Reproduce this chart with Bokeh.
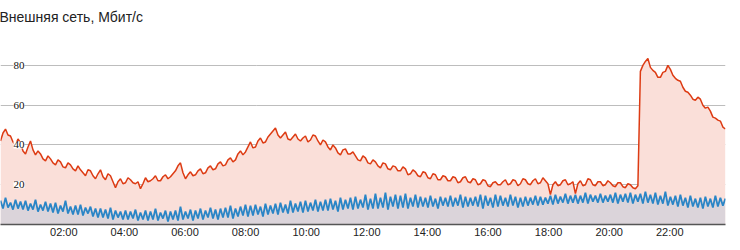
import numpy as np
from bokeh.plotting import figure
from bokeh.models import ColumnDataSource, FixedTicker, LabelSet, Range1d
from bokeh.embed import file_html
from bokeh.resources import INLINE

TITLE = "Внешняя сеть, Мбит/с"

# sampling of the series (hours since midnight)
START_H = -0.089
STEP_H = 0.0825

# external network traffic, Mbit/s
red_in = [
    42, 46, 48, 45, 44.5, 41.5, 40, 43, 41, 37, 35.5, 39, 42, 37.5, 35, 37, 35.5, 33, 32, 34.5,
    33, 31, 30, 32.5, 31.5, 29, 28.5, 31, 30, 28, 27, 29.5, 27.5, 26, 24.5, 27.5, 27, 24.5, 23, 25.5,
    27.5, 24, 22.5, 25.5, 24.5, 21.5, 18.5, 21.5, 23, 20.5, 21, 23.5, 22.5, 21, 20.5, 21.5, 18, 20.5, 23.5, 21.5,
    22, 23, 24.5, 22, 22, 24, 25, 23, 24, 25.5, 27, 29.5, 31, 26, 23, 25, 26.5, 24.5, 25, 27,
    28, 25.5, 26, 28.5, 29.5, 27.5, 28, 30.5, 31.5, 29.5, 30, 32.5, 33.5, 31.5, 32.5, 35.5, 37, 35, 36.5, 39,
    41.5, 38.5, 39, 42, 43.5, 41, 41.5, 44, 45.5, 47, 48.5, 45, 43.5, 45, 46.5, 43, 42.5, 44, 45.5, 43,
    42, 43.5, 44.5, 41.5, 42.5, 45, 44.5, 42, 40, 42.5, 41.5, 39, 37.5, 40, 38.5, 36, 35, 37.5, 38, 35.5,
    35.5, 36.5, 34.5, 32.5, 32, 34.5, 33.5, 31, 30.5, 32.5, 31.5, 29.5, 28.5, 31, 30.5, 28, 27.5, 29.5, 29, 27,
    27, 29, 28, 25, 25.5, 27.5, 26.5, 24.5, 24, 26.5, 26, 23.5, 23, 25.5, 25, 22.5, 22.5, 24.5, 24, 22,
    22, 24, 23.5, 21, 21.5, 23.5, 24, 21.5, 21, 23, 22.5, 20, 20.5, 22.5, 22, 19.5, 19, 21, 21.5, 20,
    20, 21.5, 22.5, 20, 20.5, 22.5, 22, 19.5, 20.5, 23, 22.5, 20.5, 20, 22, 23, 20.5, 21, 23.5, 22, 20.5,
    15, 20, 21.5, 19.5, 20, 22, 22.5, 20, 20.5, 21.5, 15.5, 20.5, 22, 19.5, 20, 23, 22.5, 20, 19.5, 21.5,
    21.5, 19.5, 20, 22, 21, 19.5, 19, 21, 21, 19, 18.5, 20.5, 20, 18.5, 18, 19.5, 77, 80, 82, 83.5,
    79, 77.5, 76.5, 74, 74, 76.5, 77, 80, 78, 75, 73.5, 72.5, 72, 69, 67, 66.5, 65, 63, 62.5, 64,
    63, 60, 58.5, 59, 57, 54, 53.5, 52.5, 52, 49, 48,
]
blue_out = [
    12, 8, 13.5, 8.5, 11, 7.5, 12.5, 8, 11.5, 7.5,
    12, 7, 10.5, 7.5, 12.5, 6.5, 10, 7, 11.5, 6.5,
    10.5, 6, 11, 5.5, 9.5, 6.5, 12, 5.5, 9, 5,
    9.5, 5, 10, 4.5, 8.5, 5.5, 9, 4, 8, 3.5,
    8, 3.5, 7.5, 3, 8.5, 2.5, 7, 3.5, 6.5, 2.5,
    7, 2.5, 6.5, 3, 7.5, 2, 6, 2.5, 7, 2,
    6.5, 2.5, 8, 2, 6, 3, 7, 1.5, 6.5, 2.5,
    7, 2, 9, 2.5, 6.5, 3, 7.5, 2, 7, 3,
    8, 2.5, 7, 3.5, 8.5, 3, 7.5, 2.5, 8, 3.5,
    8.5, 3.5, 9.5, 3, 8, 4, 9, 4.5, 10, 4,
    9.5, 4.5, 10, 5, 9, 4, 10.5, 5, 9.5, 5.5,
    10.5, 5, 11, 6, 10, 5.5, 12, 6, 10.5, 6.5,
    11.5, 6, 12, 6.5, 11, 7, 12.5, 6.5, 11.5, 7,
    12.5, 7, 13, 7.5, 12, 6.5, 13.5, 7.5, 12.5, 8,
    13.5, 7.5, 14, 8, 12.5, 8.5, 15, 7.5, 13, 8,
    15.5, 8, 13.5, 8.5, 16, 7.5, 14, 9, 15, 8,
    14.5, 8.5, 15.5, 8, 13.5, 9, 15, 8.5, 14, 9,
    13.5, 8.5, 14.5, 9, 13, 8, 14, 9.5, 13.5, 9,
    14.5, 9, 13.5, 9.5, 15, 8.5, 14, 9, 13.5, 9.5,
    14, 9, 15, 8, 14.5, 9.5, 13.5, 8.5, 15, 9,
    14.5, 9.5, 13.5, 9, 15, 9.5, 14, 8.5, 13.5, 9,
    14, 9.5, 13.5, 10, 14.5, 9.5, 14, 10, 13.5, 10.5,
    14.5, 10, 15, 10.5, 14, 11, 15.5, 10.5, 14.5, 11,
    15, 10.5, 14.5, 11, 16, 10.5, 15, 11.5, 14.5, 11,
    15.5, 11, 14.5, 11.5, 15, 11, 16, 10.5, 15, 11.5,
    15.5, 11, 16, 10.5, 15, 11.5, 15.5, 10.5, 16.5, 11,
    15, 10.5, 16, 10, 14.5, 10.5, 16.5, 9.5, 14, 10,
    14.5, 9, 15, 9.5, 13.5, 8.5, 14.5, 9, 13, 8.5,
    13.5, 8, 14, 9, 13, 8.5, 14.5, 9, 13.5, 9.5,
    13,
]

X_TICKS = [2, 4, 6, 8, 10, 12, 14, 16, 18, 20, 22]
X_LABELS = ["02:00", "04:00", "06:00", "08:00", "10:00", "12:00",
            "14:00", "16:00", "18:00", "20:00", "22:00"]
Y_TICKS = [20, 40, 60, 80]
Y_LABELS = ["20", "40", "60", "80"]

t_red = START_H + STEP_H * np.arange(len(red_in))
t_blue = START_H + STEP_H * np.arange(len(blue_out))
src_r = ColumnDataSource(dict(t=t_red, v=red_in, zero=np.zeros(len(t_red))))
src_b = ColumnDataSource(dict(t=t_blue, v=blue_out, zero=np.zeros(len(t_blue))))

p = figure(width=740, height=250, output_backend="svg", toolbar_location=None,
           x_range=Range1d(START_H, 23.84), y_range=Range1d(0, 90),
           min_border_left=0, min_border_right=15, min_border_top=45,
           min_border_bottom=26)
p.outline_line_color = None
p.background_fill_color = "white"

# a blank second line keeps the title high above the frame
p.title.text = TITLE + "\n "
p.title.text_font = "Liberation Sans"
p.title.text_font_size = "14px"
p.title.text_font_style = "normal"
p.title.text_color = "#222222"
p.title.align = "left"
p.title.offset = -1
p.title.standoff = 9

p.varea(x="t", y1="zero", y2="v", source=src_r, fill_color="#fadfd9")
p.varea(x="t", y1="zero", y2="v", source=src_b, fill_color="#dbd4da")
p.line(x="t", y="v", source=src_r, line_color="#dd3b13", line_width=1.5)
p.line(x="t", y="v", source=src_b, line_color="#2a85c6", line_width=1.8)

p.xgrid.visible = False
p.ygrid.ticker = FixedTicker(ticks=Y_TICKS)
p.ygrid.grid_line_color = "#bdbdbd"
p.ygrid.grid_line_width = 1
p.ygrid.level = "underlay"

p.yaxis.visible = False

p.xaxis.ticker = FixedTicker(ticks=X_TICKS)
p.xaxis.major_label_overrides = {k: v for k, v in zip(X_TICKS, X_LABELS)}
p.xaxis.axis_line_color = "#555555"
p.xaxis.axis_line_width = 1.5
p.xaxis.major_tick_line_color = None
p.xaxis.minor_tick_line_color = None
p.xaxis.major_tick_out = 0
p.xaxis.major_tick_in = 0
p.xaxis.major_label_standoff = 1
p.xaxis.major_label_text_font = "Liberation Sans"
p.xaxis.major_label_text_font_size = "11px"
p.xaxis.major_label_text_color = "#222222"

lab_src = ColumnDataSource(dict(y=Y_TICKS, text=Y_LABELS, x=[24] * len(Y_TICKS)))
labels = LabelSet(x="x", y="y", text="text", source=lab_src, x_units="screen",
                  text_align="right", text_baseline="middle",
                  text_font="Liberation Sans", text_font_size="11px",
                  text_color="#111111", background_fill_color="white",
                  background_fill_alpha=1.0)
p.add_layout(labels)

open("out.html", "w").write(file_html(p, INLINE))
